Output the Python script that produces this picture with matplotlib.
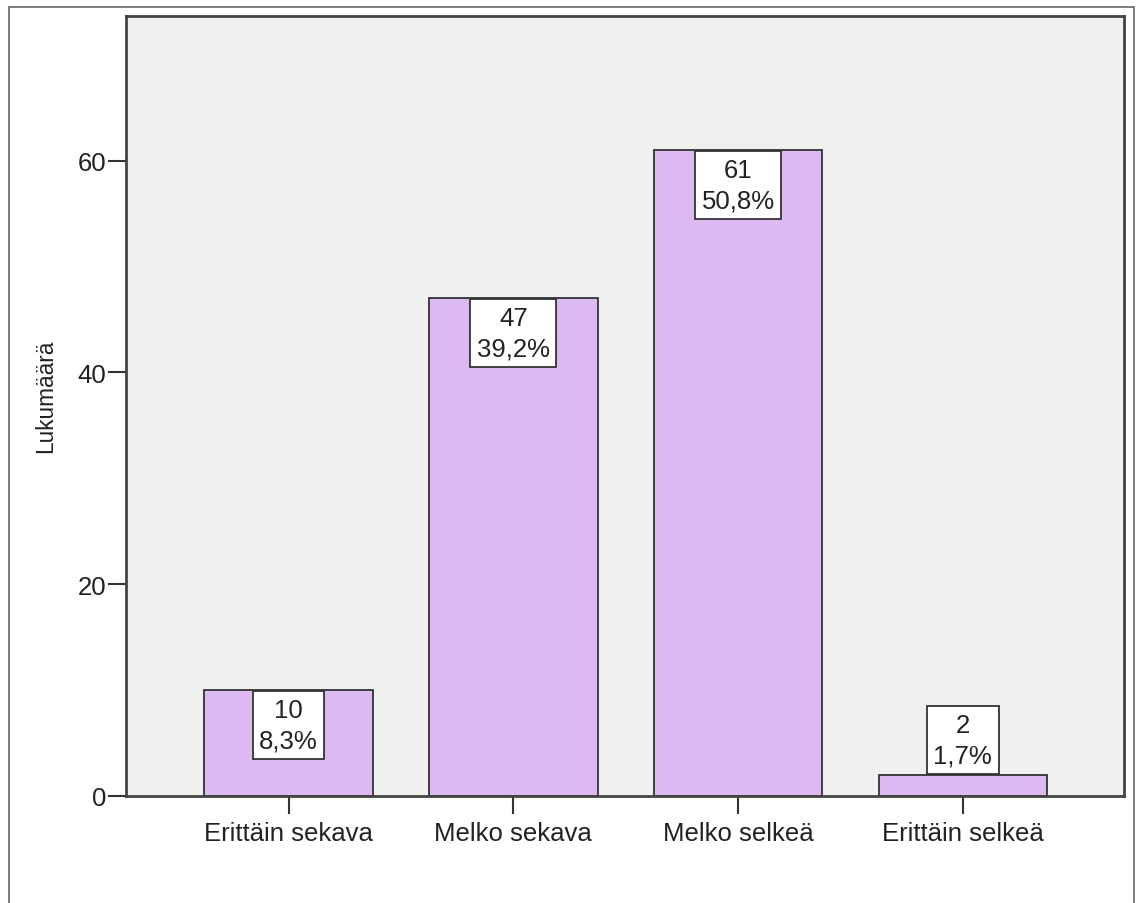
import matplotlib
matplotlib.use("Agg")
import matplotlib.pyplot as plt
from matplotlib.patches import Rectangle

plt.rcParams['font.family'] = ['Liberation Sans', 'DejaVu Sans']

categories = ["Erittäin sekava", "Melko sekava", "Melko selkeä", "Erittäin selkeä"]
counts = [10, 47, 61, 2]
percents = ["8,3%", "39,2%", "50,8%", "1,7%"]
y_ticks = [0, 20, 40, 60]
y_label = "Lukumäärä"

bar_color = "#DDB9F2"
edge_color = "#333333"
panel_color = "#F0F0F0"
text_color = "#222222"
fs = 18.5

fig = plt.figure(figsize=(11.36, 9.04), dpi=100)
fig.patch.set_facecolor("white")

# outer chart frame
fig.patches.append(Rectangle((9 / 1136, -0.01), (1134 - 9) / 1136, (904 - 8) / 904 + 0.01,
                             transform=fig.transFigure, fill=False,
                             edgecolor="#666666", linewidth=1.2))

ax = fig.add_axes([126 / 1136, 1 - 797 / 904, (1124 - 126) / 1136, (797 - 16.5) / 904])
ax.set_facecolor(panel_color)

x = list(range(len(categories)))
ax.bar(x, counts, width=0.75, color=bar_color, edgecolor=edge_color,
       linewidth=1.3, zorder=2)

ax.set_xlim(-0.723, 3.717)
ax.set_ylim(0, 73.7)
ax.set_yticks(y_ticks)
ax.set_yticklabels([str(t) for t in y_ticks])
ax.set_xticks(x)
ax.set_xticklabels(categories)

for spine in ax.spines.values():
    spine.set_color("#444444")
    spine.set_linewidth(2.0)

ax.tick_params(axis="both", which="major", length=13, width=1.5, color="#333333",
               labelsize=fs, labelcolor=text_color)
ax.tick_params(axis="x", pad=5)
ax.tick_params(axis="y", pad=1)

ax.set_ylabel(y_label, fontsize=fs * 0.88, color=text_color)
ax.yaxis.set_label_coords(-0.069, 0.5128)

# value labels: count and percentage in a white box at the top of each bar
pad_frac = 0.25
for xi, c, p in zip(x, counts, percents):
    label = f"{c}\n{p}"
    inside = c > 8
    off = pad_frac * fs + 0.8
    ax.annotate(label, xy=(xi, c), xytext=(0, -off if inside else off),
                textcoords="offset points", ha="center",
                va="top" if inside else "bottom",
                fontsize=fs, color=text_color, linespacing=1.35,
                multialignment="center", zorder=4,
                bbox=dict(boxstyle=f"square,pad={pad_frac}", facecolor="white",
                          edgecolor=edge_color, linewidth=1.3))

fig.savefig("out.png", dpi=100)
